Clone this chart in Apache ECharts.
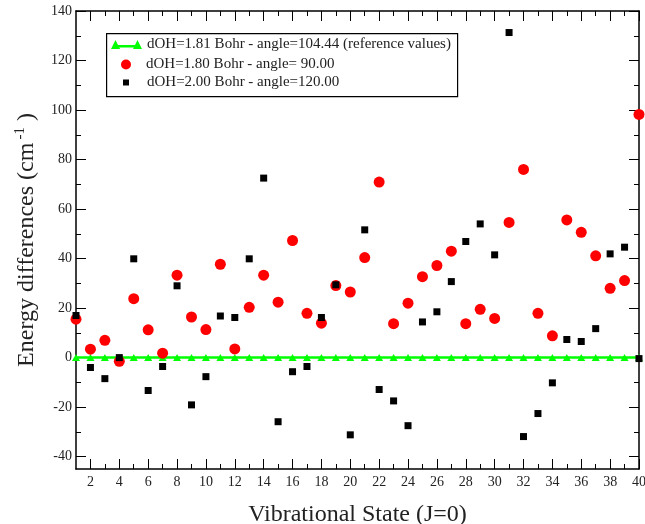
<!DOCTYPE html>
<html>
<head>
<meta charset="utf-8">
<script src="https://cdn.jsdelivr.net/npm/echarts@6/dist/echarts.min.js"></script>
<style>
html,body{margin:0;padding:0;background:#fff;}
#chart{width:645px;height:524px;}
</style>
</head>
<body>
<div id="chart"></div>
<script>
// vibrational states J=0
var states = [];
for (var s = 1; s <= 40; s++) states.push(s);

var refValues = [0,0,0,0,0,0,0,0,0,0,0,0,0,0,0,0,0,0,0,0,
                 0,0,0,0,0,0,0,0,0,0,0,0,0,0,0,0,0,0,0,0];
// dOH=1.80 angle=90
var diff90 = [15.5,3.4,7.0,-1.5,23.8,11.2,1.8,33.3,16.4,11.3,
              37.7,3.5,20.3,33.3,22.4,47.3,17.9,13.9,29.1,26.5,
              40.4,70.9,13.7,22.0,32.7,37.2,43.0,13.7,19.5,15.8,
              54.6,76.0,17.9,8.8,55.6,50.6,41.1,28.0,31.1,98.2];
// dOH=2.00 angle=120
var diff120 = [17.0,-4.0,-8.5,0.0,39.9,-13.3,-3.6,29.0,-19.1,-7.7,
               16.8,16.2,39.9,72.5,-25.9,-5.7,-3.6,16.2,29.4,-31.2,
               51.6,-12.9,-17.5,-27.5,14.4,18.5,30.7,46.9,54.0,41.5,
               131.3,-31.9,-22.6,-10.2,7.3,6.5,11.7,41.9,44.6,-0.4];

var xLabels = [2,4,6,8,10,12,14,16,18,20,22,24,26,28,30,32,34,36,38,40];
var xMinor = [3,5,7,9,11,13,15,17,19,21,23,25,27,29,31,33,35,37,39];
var yLabels = [-40,-20,0,20,40,60,80,100,120,140];
var yMinor = [-30,-10,10,30,50,70,90,110,130];

var names = ['dOH=1.81 Bohr - angle=104.44 (reference values)',
             'dOH=1.80 Bohr - angle= 90.00',
             'dOH=2.00 Bohr - angle=120.00'];

function pairs(vals) {
  return vals.map(function (v, i) { return [states[i], v]; });
}

var font = 'Liberation Serif';
var chart = echarts.init(document.getElementById('chart'));

function xAx(pos, major, showLine) {
  return {
    type: 'value', position: pos, min: 1, max: 40,
    axisLine: { show: showLine, onZero: false, lineStyle: { color: '#000', width: 1.5 } },
    axisTick: { show: true, inside: true, length: major ? 10 : 5,
      customValues: major ? xLabels : xMinor, lineStyle: { color: '#000', width: 1 } },
    axisLabel: { show: false },
    splitLine: { show: false }
  };
}
function yAx(pos, major, showLine) {
  return {
    type: 'value', position: pos, min: -45, max: 140,
    axisLine: { show: showLine, onZero: false, lineStyle: { color: '#000', width: 1.5 } },
    axisTick: { show: true, inside: true, length: major ? 10 : 5,
      customValues: major ? yLabels : yMinor, lineStyle: { color: '#000', width: 1 } },
    axisLabel: { show: false },
    splitLine: { show: false }
  };
}

var xBottom = xAx('bottom', true, true);
xBottom.axisLabel = { show: true, customValues: xLabels, margin: 6,
  fontFamily: font, fontSize: 14, color: '#222' };
xBottom.name = 'Vibrational State (J=0)';
xBottom.nameLocation = 'middle';
xBottom.nameGap = 34;
xBottom.nameTextStyle = { fontFamily: font, fontSize: 24, color: '#222' };

var yLeft = yAx('left', true, true);
yLeft.axisLabel = { show: true, customValues: yLabels, margin: 4,
  fontFamily: font, fontSize: 14, color: '#222' };
yLeft.name = 'Energy differences (cm{sup|-1} )';
yLeft.nameLocation = 'middle';
yLeft.nameGap = 36;
yLeft.nameTextStyle = { fontFamily: font, fontSize: 24, color: '#222',
  rich: { sup: { fontFamily: font, fontSize: 15, color: '#222', verticalAlign: 'top', padding: [0, 0, 12, 3] } } };

function legendAt(left, top, name, w, h, icon, shift) {
  return {
    left: left, top: top, padding: 0, orient: 'vertical',
    itemWidth: w, itemHeight: h, selectedMode: false,
    data: [{ name: name, icon: icon }],
    textStyle: { fontFamily: font, fontSize: 15, color: '#222', padding: [0, 0, 0, shift] }
  };
}

var option = {
  animation: false,
  backgroundColor: '#fff',
  grid: { left: 76, right: 6, top: 11, bottom: 55, outerBoundsMode: 'none' },
  xAxis: [xBottom, xAx('top', true, true), xAx('bottom', false, false), xAx('top', false, false)],
  yAxis: [yLeft, yAx('right', true, true), yAx('left', false, false), yAx('right', false, false)],
  graphic: [{
    type: 'rect', left: 106, top: 33, z: 0,
    shape: { width: 351, height: 63 },
    style: { fill: '#fff', stroke: '#000', lineWidth: 1.2 }
  }],
  legend: [
    legendAt(111, 37, names[0], 31, 9,
      'path://M0,9 L4.5,0 L9,9 Z M4.5,5 L26.5,5 L26.5,7.5 L4.5,7.5 Z M22,9 L26.5,0 L31,9 Z', 0),
    legendAt(121, 57, names[1], 10, 10, 'circle', 10),
    legendAt(123, 75, names[2], 6, 6, 'rect', 13)
  ],
  series: [
    {
      name: names[0], type: 'line', data: pairs(refValues),
      symbol: 'triangle', symbolSize: [8, 7], showAllSymbol: true,
      lineStyle: { color: '#00ff00', width: 2.5 },
      itemStyle: { color: '#00ff00', opacity: 1 }, z: 2
    },
    {
      name: names[1], type: 'scatter', data: pairs(diff90),
      symbol: 'circle', symbolSize: 11,
      itemStyle: { color: '#ff0000', opacity: 1 }, z: 3
    },
    {
      name: names[2], type: 'scatter', data: pairs(diff120),
      symbol: 'rect', symbolSize: 7,
      itemStyle: { color: '#000', opacity: 1 }, z: 4
    }
  ]
};
chart.setOption(option);
</script>
</body>
</html>
